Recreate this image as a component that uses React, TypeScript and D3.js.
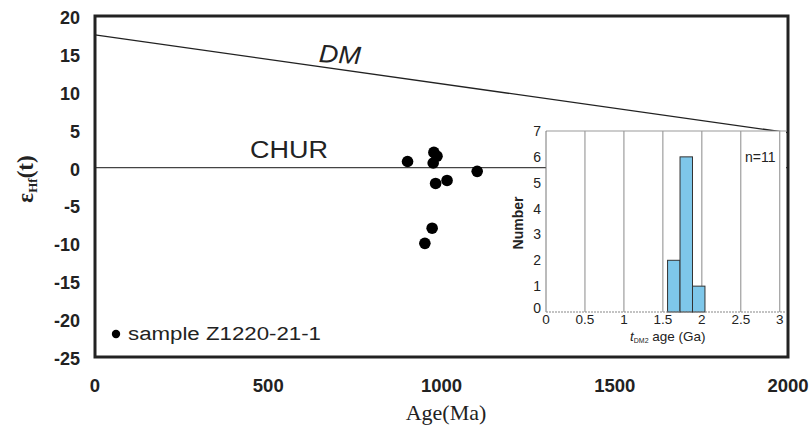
import React from "react";
import * as d3 from "d3";

const xTicks = [0, 500, 1000, 1500, 2000];
const yTicks = [20, 15, 10, 5, 0, -5, -10, -15, -20, -25];
const dmLine: [number, number][] = [[0, 17.5], [2000, 4.6]];
const churLine: [number, number][] = [[0, 0], [2000, 0]];
const samples: [number, number][] = [
  [902, 0.8], [978, 2.0], [987, 1.5], [976, 0.6], [1103, -0.5],
  [983, -2.1], [1016, -1.7], [973, -8.0], [952, -10.0],
];
const histBins = [1.56, 1.72, 1.88];
const histBinWidth = 0.16;
const histCounts = [2, 6, 1];
const histXTicks = [0, 0.5, 1, 1.5, 2, 2.5, 3];
const histYTicks = [0, 1, 2, 3, 4, 5, 6, 7];

export default function App() {
  const W = 812, H = 428;
  const x = d3.scaleLinear().domain([0, 2000]).range([95, 788]);
  const y = d3.scaleLinear().domain([-25, 20]).range([357, 16]);
  const line = d3.line<[number, number]>().x(d => x(d[0])).y(d => y(d[1]));

  const ix = d3.scaleLinear().domain([0, 3.08]).range([546, 786]);
  const iy = d3.scaleLinear().domain([0, 7]).range([312, 131]);

  const sans = "'Liberation Sans', Arial, sans-serif";
  const serif = "'Liberation Serif', 'Times New Roman', serif";

  return (
    <svg width={W} height={H} style={{ position: "absolute", left: 0, top: 0, background: "#fff" }}>
      <rect x={0} y={0} width={W} height={H} fill="#fff" />
      {/* reference lines */}
      <path d={line(dmLine) || ""} stroke="#222" strokeWidth={1.3} fill="none" />
      <path d={line(churLine) || ""} stroke="#444" strokeWidth={1.3} fill="none" />
      <text x={319} y={63} fontFamily={sans} fontStyle="italic" fontSize={25} fill="#222"
        textLength={42} lengthAdjust="spacingAndGlyphs" transform="rotate(3,340,55)">DM</text>
      <text x={250} y={158} fontFamily={sans} fontSize={23} fill="#222"
        textLength={78} lengthAdjust="spacingAndGlyphs">CHUR</text>

      {/* samples */}
      {samples.map((d, i) => (
        <circle key={i} cx={x(d[0])} cy={y(d[1])} r={5.8} fill="#000" />
      ))}

      {/* inset histogram */}
      <rect x={ix(0)} y={iy(7)} width={ix(3.08) - ix(0)} height={iy(0) - iy(7)} fill="#fff" />
      {histXTicks.slice(1).map(t => (
        <line key={t} x1={ix(t)} x2={ix(t)} y1={iy(0)} y2={iy(7)} stroke="#8a8a8a" strokeWidth={1} />
      ))}
      <line x1={ix(0)} x2={ix(3.08)} y1={iy(7)} y2={iy(7)} stroke="#999" strokeWidth={1} />
      <line x1={ix(0)} x2={ix(0)} y1={iy(0)} y2={iy(7)} stroke="#777" strokeWidth={1} />
      {histCounts.map((c, i) => (
        <rect key={i} x={ix(histBins[i])} y={iy(c)} width={ix(histBins[i] + histBinWidth) - ix(histBins[i])}
          height={iy(0) - iy(c)} fill="#7ec7ea" stroke="#333" strokeWidth={1} />
      ))}
      <line x1={ix(0)} x2={ix(3.08)} y1={iy(0)} y2={iy(0)} stroke="#888" strokeWidth={1.2} strokeDasharray="2,1" />
      {histYTicks.map(t => (
        <text key={t} x={541} y={iy(t) + (t === 0 ? 1 : 5)} textAnchor="end" fontFamily={sans} fontSize={14} fill="#222">{t}</text>
      ))}
      {histXTicks.map(t => (
        <text key={t} x={ix(t)} y={324} textAnchor="middle" fontFamily={sans} fontSize={13.5} fill="#222">{t}</text>
      ))}
      <text transform="translate(523,223) rotate(-90)" textAnchor="middle" fontFamily={sans}
        fontWeight="bold" fontSize={14} fill="#222">Number</text>
      <text x={745} y={162} fontFamily={sans} fontSize={14} fill="#222">n=11</text>
      <text x={630} y={341} fontFamily={sans} fontSize={13.5} fill="#222">
        <tspan fontStyle="italic">t</tspan>
        <tspan fontSize={7} dy={2}>DM2</tspan>
        <tspan dy={-2}> age (Ga)</tspan>
      </text>

      {/* frame */}
      <rect x={95} y={16} width={693} height={341} fill="none" stroke="#222" strokeWidth={3} />

      {/* legend */}
      <circle cx={116} cy={334} r={4.2} fill="#000" />
      <text x={128} y={340} fontFamily={sans} fontSize={18} fill="#222"
        textLength={193} lengthAdjust="spacingAndGlyphs">sample Z1220-21-1</text>

      {/* axes labels */}
      {yTicks.map(t => (
        <text key={t} x={80} y={y(t) + 8} textAnchor="end" fontFamily={sans} fontWeight="bold" fontSize={18} fill="#222">{t}</text>
      ))}
      {xTicks.map(t => (
        <text key={t} x={x(t)} y={392} textAnchor="middle" fontFamily={sans} fontWeight="bold" fontSize={18.5} fill="#222">{t}</text>
      ))}
      <text x={446} y={420} textAnchor="middle" fontFamily={serif} fontSize={22} fill="#222">Age(Ma)</text>
      <text transform="translate(33,179) rotate(-90)" textAnchor="middle" fontFamily={serif}
        fontWeight="bold" fontSize={23} fill="#222">
        <tspan>ε</tspan>
        <tspan fontSize={13} dy={4}>Hf</tspan>
        <tspan dy={-4}>(t)</tspan>
      </text>
    </svg>
  );
}
